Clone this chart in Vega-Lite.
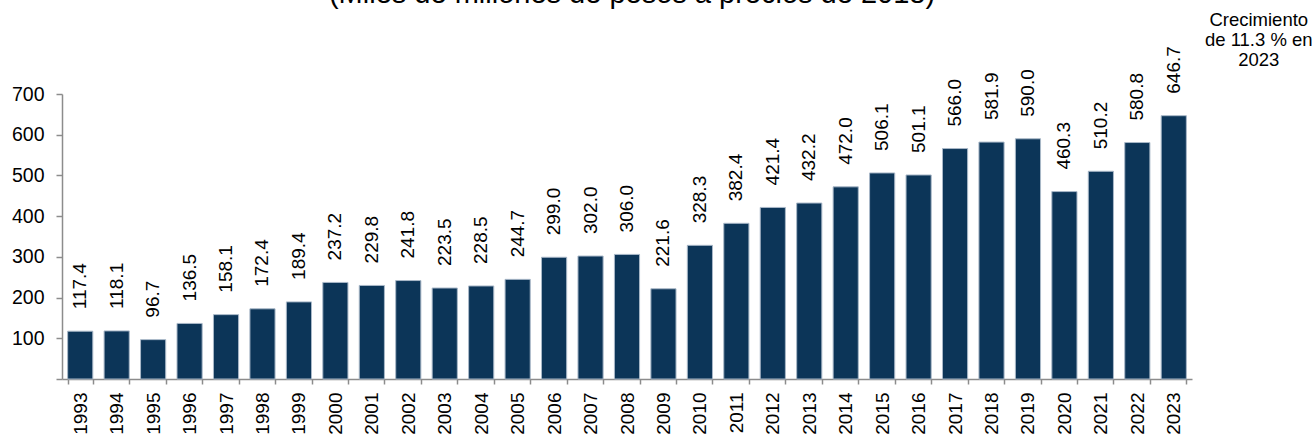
{
  "$schema": "https://vega.github.io/schema/vega-lite/v6.json",
  "width": 1130,
  "height": 285,
  "autosize": {"type": "none"},
  "padding": {"left": 62, "top": 94, "right": 122, "bottom": 59},
  "background": "white",
  "title": {
    "text": "(Miles de millones de pesos a precios de 2018)",
    "font": "Liberation Sans",
    "fontSize": 29,
    "fontWeight": "normal",
    "color": "black",
    "anchor": "middle",
    "baseline": "alphabetic",
    "dy": 21,
    "dx": 5,
    "offset": 0
  },
  "data": {
    "values": [
      {"year": "1993", "value": 117.4},
      {"year": "1994", "value": 118.1},
      {"year": "1995", "value": 96.7},
      {"year": "1996", "value": 136.5},
      {"year": "1997", "value": 158.1},
      {"year": "1998", "value": 172.4},
      {"year": "1999", "value": 189.4},
      {"year": "2000", "value": 237.2},
      {"year": "2001", "value": 229.8},
      {"year": "2002", "value": 241.8},
      {"year": "2003", "value": 223.5},
      {"year": "2004", "value": 228.5},
      {"year": "2005", "value": 244.7},
      {"year": "2006", "value": 299.0},
      {"year": "2007", "value": 302.0},
      {"year": "2008", "value": 306.0},
      {"year": "2009", "value": 221.6},
      {"year": "2010", "value": 328.3},
      {"year": "2011", "value": 382.4},
      {"year": "2012", "value": 421.4},
      {"year": "2013", "value": 432.2},
      {"year": "2014", "value": 472.0},
      {"year": "2015", "value": 506.1},
      {"year": "2016", "value": 501.1},
      {"year": "2017", "value": 566.0},
      {"year": "2018", "value": 581.9},
      {"year": "2019", "value": 590.0},
      {"year": "2020", "value": 460.3},
      {"year": "2021", "value": 510.2},
      {"year": "2022", "value": 580.8},
      {"year": "2023", "value": 646.7}
    ]
  },
  "encoding": {
    "x": {
      "field": "year",
      "type": "ordinal",
      "scale": {"paddingInner": 0.31, "paddingOuter": 0.155},
      "axis": {
        "title": null,
        "labelAngle": 270,
        "labelAlign": "right",
        "labelBaseline": "middle",
        "labelFont": "Liberation Sans",
        "labelFontSize": 19,
        "labelColor": "black",
        "labelPadding": 8,
        "tickBand": "extent",
        "tickSize": 5,
        "tickColor": "#8c8c8c",
        "domainColor": "#8c8c8c",
        "domainWidth": 1.5,
        "tickWidth": 1.5
      }
    },
    "y": {
      "field": "value",
      "type": "quantitative",
      "scale": {"domain": [0, 700], "nice": false},
      "axis": {
        "title": null,
        "values": [0, 100, 200, 300, 400, 500, 600, 700],
        "labelExpr": "datum.value == 0 ? '' : datum.label",
        "grid": false,
        "labelFont": "Liberation Sans",
        "labelFontSize": 19.5,
        "labelColor": "black",
        "labelPadding": 12,
        "tickSize": 6,
        "tickColor": "#8c8c8c",
        "domainColor": "#8c8c8c",
        "domainWidth": 1.5,
        "tickWidth": 1.5
      }
    }
  },
  "layer": [
    {
      "mark": {"type": "bar", "color": "#0c3558", "stroke": "#a9b8c8", "strokeWidth": 1}
    },
    {
      "mark": {
        "type": "text",
        "angle": 270,
        "align": "left",
        "baseline": "middle",
        "dx": 22,
        "font": "Liberation Sans",
        "fontSize": 19,
        "color": "black"
      },
      "encoding": {
        "text": {"field": "value", "type": "quantitative", "format": ".1f"}
      }
    },
    {
      "data": {"values": [{"note": ["Crecimiento", "de 11.3 % en", "2023"], "year": "2023", "value": 700}]},
      "mark": {
        "type": "text",
        "align": "center",
        "baseline": "alphabetic",
        "dx": 85,
        "dy": -68,
        "lineHeight": 20,
        "font": "Liberation Sans",
        "fontSize": 18.5,
        "color": "black"
      },
      "encoding": {
        "text": {"field": "note"}
      }
    }
  ],
  "config": {"view": {"stroke": null}}
}
